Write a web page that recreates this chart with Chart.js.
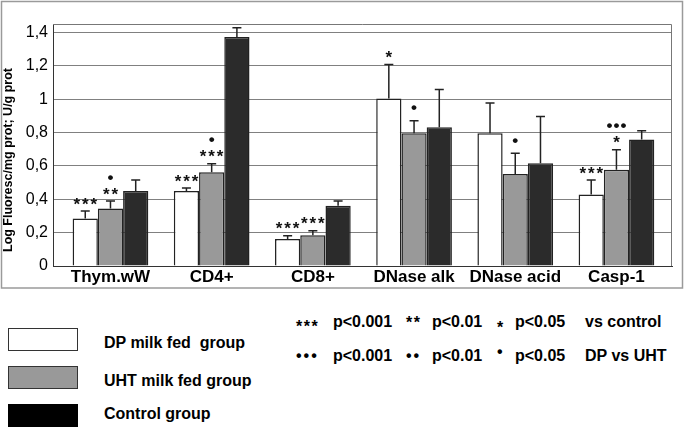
<!DOCTYPE html>
<html>
<head>
<meta charset="utf-8">
<script src="https://cdn.jsdelivr.net/npm/chart.js@4.4.1/dist/chart.umd.min.js"></script>
<style>
  body { margin: 0; background: #fff; }
  #wrap { position: relative; width: 685px; height: 429px; font-family: "Liberation Sans", Arial, sans-serif; font-weight: bold; color: #000; }
  #chart { position: absolute; left: 0; top: 0; }
  .box { position: absolute; left: 8px; width: 70px; height: 23px; box-sizing: border-box; border: 1.5px solid #333; }
  .t { position: absolute; font-size: 16px; line-height: 18px; white-space: pre; }
  .s { letter-spacing: 1.5px; }
  .d { letter-spacing: 2px; }
</style>
</head>
<body>
<div id="wrap">
  <canvas id="chart" width="685" height="290"></canvas>

  <div class="box" style="top:328px;background:#fff"></div>
  <div class="box" style="top:366px;background:#999"></div>
  <div class="box" style="top:404px;background:#000;border-color:#000"></div>
  <div class="t" style="left:104px;top:334px">DP milk fed  group</div>
  <div class="t" style="left:104px;top:372px">UHT milk fed group</div>
  <div class="t" style="left:104px;top:405px">Control group</div>

  <div class="t s" style="left:296px;top:318px">***</div>
  <div class="t" style="left:333px;top:313px">p&lt;0.001</div>
  <div class="t s" style="left:406px;top:314px">**</div>
  <div class="t" style="left:432px;top:313px">p&lt;0.01</div>
  <div class="t s" style="left:497px;top:319px">*</div>
  <div class="t" style="left:515px;top:313px">p&lt;0.05</div>
  <div class="t" style="left:585px;top:313px">vs control</div>

  <div class="t d" style="left:296px;top:347px">•••</div>
  <div class="t" style="left:333px;top:347px">p&lt;0.001</div>
  <div class="t d" style="left:406px;top:347px">••</div>
  <div class="t" style="left:432px;top:347px">p&lt;0.01</div>
  <div class="t" style="left:497px;top:343px">•</div>
  <div class="t" style="left:515px;top:347px">p&lt;0.05</div>
  <div class="t" style="left:585px;top:347px">DP vs UHT</div>
</div>

<script>
// categories and groups
const categories = ['Thym.wW', 'CD4+', 'CD8+', 'DNase alk', 'DNase acid', 'Casp-1'];
const seriesNames = ['DP milk fed group', 'UHT milk fed group', 'Control group'];

// means
const dpMeans = [0.285, 0.45, 0.162, 1.003, 0.796, 0.429];
const uhtMeans = [0.345, 0.562, 0.184, 0.796, 0.551, 0.576];
const ctrlMeans = [0.449, 1.372, 0.361, 0.832, 0.616, 0.758];

// upper error bars (SD)
const dpErr = [0.044, 0.017, 0.019, 0.204, 0.181, 0.086];
const uhtErr = [0.044, 0.05, 0.027, 0.074, 0.125, 0.12];
const ctrlErr = [0.066, 0.056, 0.028, 0.225, 0.28, 0.052];

// significance marks
const dpStars = ['***', '***', '***', '*', '', '***'];
const dpDots = ['', '', '', '', '', ''];
const uhtStars = ['**', '***', '***', '', '', '*'];
const uhtDots = ['•', '•', '', '•', '•', '•••'];
const ctrlStars = ['', '', '', '', '', ''];
const ctrlDots = ['', '', '', '', '', ''];

const yTicks = [0, 0.2, 0.4, 0.6, 0.8, 1, 1.2, 1.4];
const yTitle = 'Log Fluoresc/mg prot; U/g prot';

const errors = [dpErr, uhtErr, ctrlErr];
const stars = [dpStars, uhtStars, ctrlStars];
const dots = [dpDots, uhtDots, ctrlDots];

const toPoints = arr => arr.map((v, i) => ({ x: i, y: v }));

// plot box, outer frame, y title, error bars and marks
const extras = {
  id: 'extras',
  beforeDraw(chart) {
    const ctx = chart.ctx;
    ctx.save();
    ctx.fillStyle = '#fff';
    ctx.fillRect(0, 0, chart.width, chart.height);
    ctx.strokeStyle = '#9a9a9a';
    ctx.lineWidth = 1.5;
    ctx.strokeRect(1.5, 1.5, 681, 286.5);

    // y axis title, sits a bit below the plot centre like the original
    ctx.translate(9, 160);
    ctx.rotate(-Math.PI / 2);
    ctx.fillStyle = '#000';
    ctx.font = 'bold 12.5px "Liberation Sans", Arial, sans-serif';
    ctx.textAlign = 'center';
    ctx.textBaseline = 'middle';
    ctx.fillText(yTitle, 0, 0);
    ctx.restore();
  },
  afterDatasetsDraw(chart) {
    const ctx = chart.ctx;
    const a = chart.chartArea;
    const yScale = chart.scales.y;
    ctx.save();
    ctx.strokeStyle = '#777';
    ctx.lineWidth = 1;
    ctx.beginPath();
    ctx.moveTo(a.left, a.top + 0.5);
    ctx.lineTo(a.right - 0.5, a.top + 0.5);
    ctx.lineTo(a.right - 0.5, a.bottom);
    ctx.stroke();

    ctx.fillStyle = '#111';
    ctx.font = 'bold 17px "Liberation Sans", Arial, sans-serif';
    ctx.textAlign = 'center';
    ctx.textBaseline = 'alphabetic';

    const drawMark = (str, cx, cy, spacing) => {
      const n = str.length;
      for (let k = 0; k < n; k++) {
        const ch = str[k];
        const m = ctx.measureText(ch);
        const base = cy + (m.actualBoundingBoxAscent - m.actualBoundingBoxDescent) / 2;
        ctx.fillText(ch, cx + (k - (n - 1) / 2) * spacing, base);
      }
    };

    chart.data.datasets.forEach((ds, i) => {
      const meta = chart.getDatasetMeta(i);
      meta.data.forEach((bar, j) => {
        const top = yScale.getPixelForValue(ds.data[j].y + errors[i][j]);
        ctx.strokeStyle = '#222';
        ctx.lineWidth = 1.5;
        ctx.beginPath();
        ctx.moveTo(bar.x, bar.y);
        ctx.lineTo(bar.x, top);
        ctx.moveTo(bar.x - 4.5, top);
        ctx.lineTo(bar.x + 4.5, top);
        ctx.stroke();

        if (stars[i][j]) {
          const y = top - 10;
          drawMark(stars[i][j], bar.x, y, 8.5);
          if (dots[i][j]) drawMark(dots[i][j], bar.x, y - 14, 7);
        } else if (dots[i][j]) {
          drawMark(dots[i][j], bar.x, top - 13, 7);
        }
      });
    });
    ctx.restore();
  }
};

new Chart(document.getElementById('chart'), {
  type: 'bar',
  data: {
    datasets: [
      { label: seriesNames[0], data: toPoints(dpMeans), backgroundColor: '#ffffff' },
      { label: seriesNames[1], data: toPoints(uhtMeans), backgroundColor: '#999999' },
      { label: seriesNames[2], data: toPoints(ctrlMeans), backgroundColor: '#2b2b2b' }
    ]
  },
  options: {
    responsive: false,
    animation: false,
    events: [],
    layout: { padding: { top: 24, right: 13, left: 0, bottom: 0 } },
    datasets: {
      bar: {
        borderColor: '#222',
        borderWidth: 1.5,
        categoryPercentage: 0.748,
        barPercentage: 1
      }
    },
    plugins: {
      legend: { display: false },
      tooltip: { enabled: false }
    },
    scales: {
      x: {
        type: 'linear',
        min: -0.568,
        max: 5.549,
        offset: false,
        grid: { display: false, offset: false, drawTicks: false },
        border: { color: '#333', width: 1 },
        ticks: {
          stepSize: 1,
          includeBounds: false,
          autoSkip: false,
          maxRotation: 0,
          padding: 1,
          color: '#000',
          font: { family: '"Liberation Sans", Arial, sans-serif', size: 17, weight: 'bold' },
          callback: v => Number.isInteger(v) ? (categories[v] || '') : ''
        },
        afterFit(scale) { scale.height = 24; }
      },
      y: {
        min: 0,
        max: 1.45,
        grid: { color: '#808080', lineWidth: 1, drawTicks: false },
        border: { color: '#333', width: 1 },
        ticks: {
          stepSize: 0.2,
          includeBounds: false,
          padding: 5,
          color: '#000',
          font: { family: '"Liberation Sans", Arial, sans-serif', size: 16 },
          callback: v => {
            const t = yTicks.find(k => Math.abs(k - v) < 1e-6);
            return t === undefined ? '' : String(t).replace('.', ',');
          }
        },
        afterFit(scale) { scale.width = 53; }
      }
    }
  },
  plugins: [extras]
});
</script>
</body>
</html>
